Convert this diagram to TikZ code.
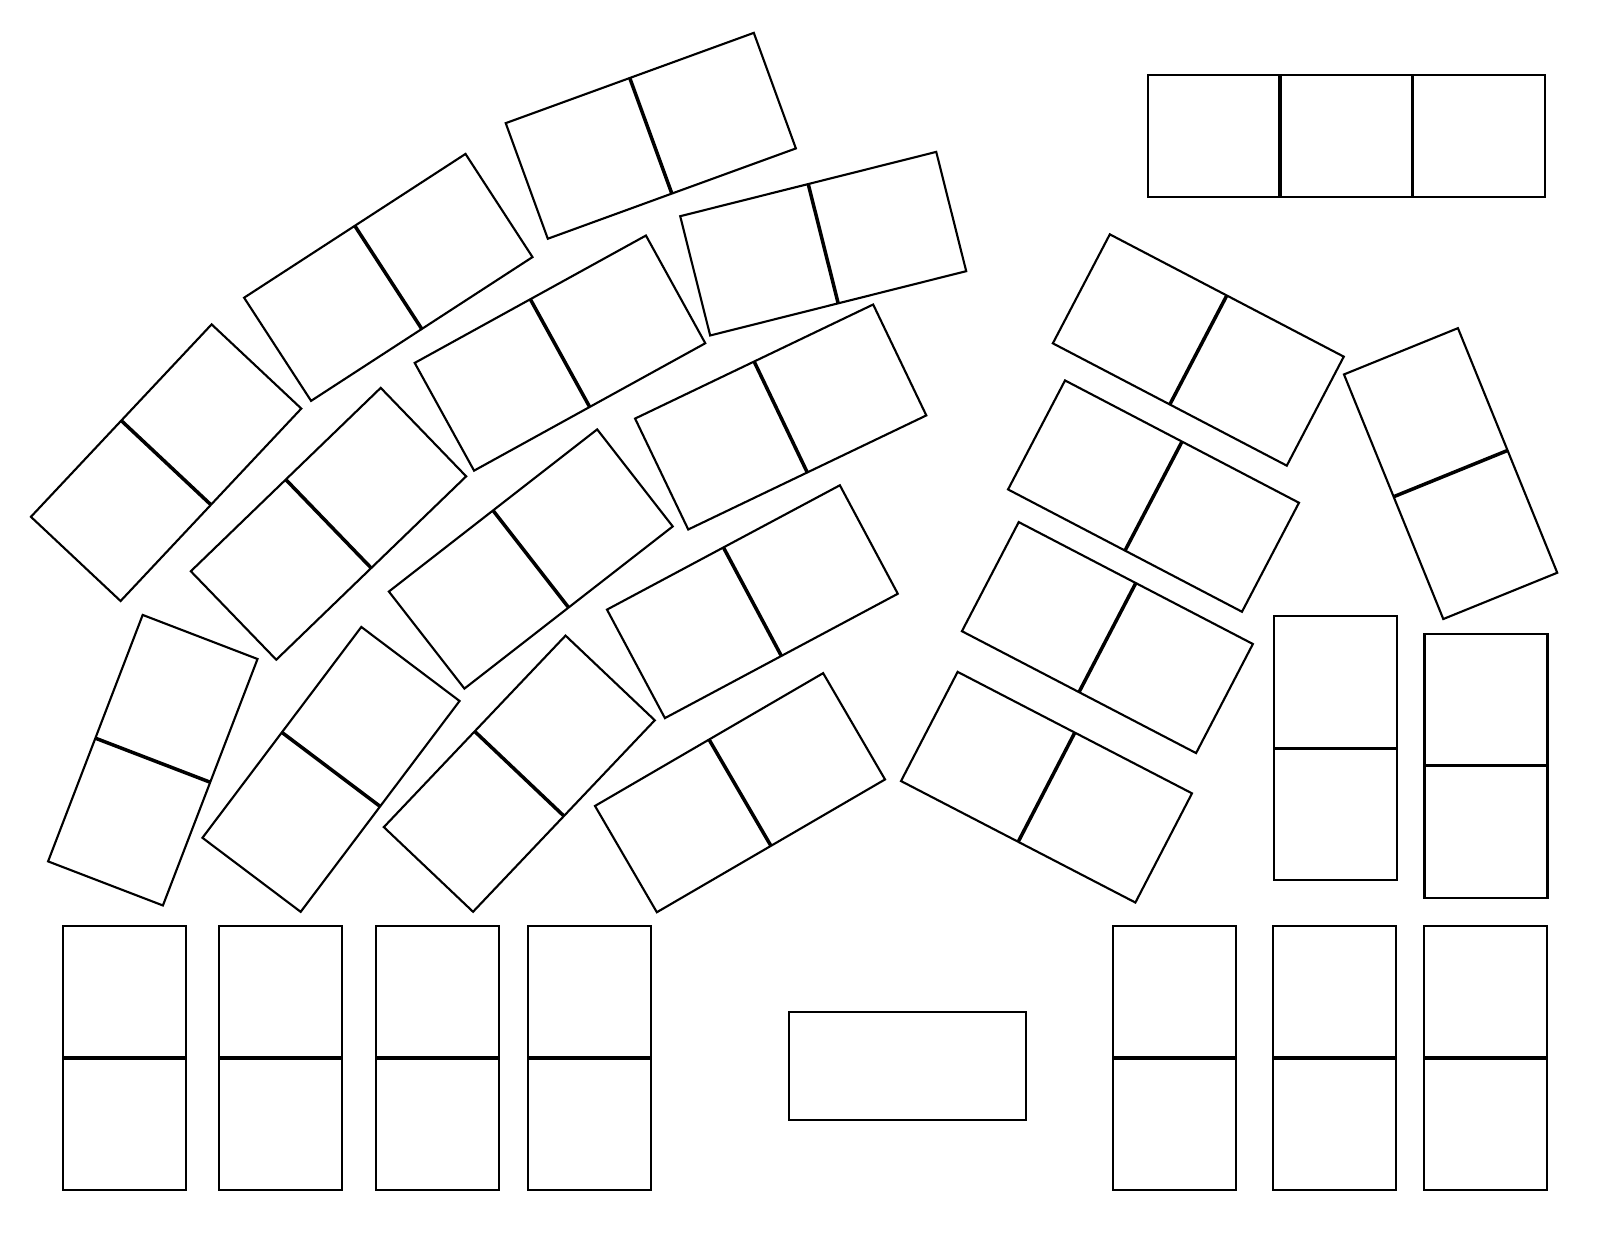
\documentclass[tikz,border=0pt]{standalone}
\usepackage{tikz}
\tikzset{
  deskline/.style={draw=black, line width=0.6pt, line join=miter},
  divline/.style={draw=black, line width=1.0pt},
}
\newcommand{\desk}[3]{%
  \begin{scope}[shift={(#1,#2)},rotate=#3]
    \draw[deskline] (-132,-61.5) rectangle (132,61.5);
    \draw[divline] (0,-61.5) -- (0,61.5);
  \end{scope}}
\begin{document}
\begin{tikzpicture}[x=0.01cm,y=-0.01cm]
\useasboundingbox (0,0) rectangle (1600,1237);
\fill[white] (0,0) rectangle (1600,1237);
% top-right triple desk
\draw[deskline] (1148.3,74.7) rectangle (1545.3,197);
\draw[divline] (1280,74.7) -- (1280,197);
\draw[divline] (1412.7,74.7) -- (1412.7,197);
% arc of tilted desks (left part)
\desk{650.8}{135.8}{20}
\desk{823.2}{243.7}{14.1}
\desk{388.3}{277.4}{33}
\desk{166.1}{462.7}{46.8}
\desk{560}{353.1}{28.85}
\desk{328.5}{523.8}{44}
\desk{780.7}{417}{25.6}
\desk{530.8}{559}{37.9}
\desk{752.4}{601.7}{28.1}
\desk{152.8}{760.2}{69}
\desk{331}{769.4}{53}
\desk{519.3}{773.7}{46.5}
\desk{740}{792.7}{30.2}
% right group
\desk{1198.3}{350}{-27.6}
\desk{1153.5}{496.1}{-27.6}
\desk{1450.6}{473.6}{112.1}
\desk{1107.4}{637.6}{-27.5}
\desk{1046.5}{787.2}{-27.4}
\desk{1335.8}{748.4}{90}
\desk{1486}{765.7}{90}
% bottom row
\desk{124.6}{1058}{90}
\desk{280.1}{1058}{90}
\desk{437.4}{1058}{90}
\desk{589.7}{1058}{90}
\desk{1174.9}{1058}{90}
\desk{1334.4}{1058}{90}
\desk{1485.5}{1058}{90}
% single table
\draw[deskline] (788.8,1012.3) rectangle (1025.6,1120.3);
\end{tikzpicture}
\end{document}
